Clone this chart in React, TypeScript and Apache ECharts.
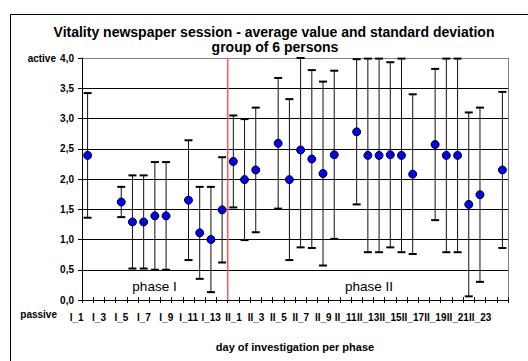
import React, { useEffect, useRef } from "react";
import * as echarts from "echarts";

const phase1Days = ["I_1", "I_2", "I_3", "I_4", "I_5", "I_6", "I_7", "I_8", "I_9", "I_10", "I_11", "I_12", "I_13", "I_14"];
const phase2Days = [
  "II_1", "II_2", "II_3", "II_4", "II_5", "II_6", "II_7", "II_8", "II_9", "II_10", "II_11", "II_12",
  "II_13", "II_14", "II_15", "II_16", "II_17", "II_18", "II_19", "II_20", "II_21", "II_22", "II_23", "II_24",
];
const categories = [...phase1Days, ...phase2Days];

// average value per day (null = no session)
const meanValues: (number | null)[] = [
  2.39, null, null, 1.62, 1.29, 1.29, 1.39, 1.39, null, 1.65, 1.11, 1.0, 1.49,
  2.29, 1.99, 2.15, null, 2.59, 1.99, 2.48, 2.33, 2.09, 2.4, null, 2.78, 2.39,
  2.39, 2.4, 2.39, 2.08, null, 2.57, 2.39, 2.39, 1.58, 1.74, null, 2.15,
];
// standard deviation per day
const stdDeviations: (number | null)[] = [
  1.03, null, null, 0.25, 0.77, 0.77, 0.89, 0.89, null, 0.99, 0.76, 0.87, 0.87,
  0.76, 1.0, 1.03, null, 1.08, 1.33, 1.61, 1.47, 1.52, 1.39, null, 1.2, 1.6,
  1.6, 1.53, 1.6, 1.32, null, 1.25, 1.6, 1.6, 1.52, 1.44, null, 1.29,
];

const yMin = 0;
const yMax = 4;
const yStep = 0.5;
const phaseBoundary = 13;

const FONT = "'Liberation Sans', Arial, sans-serif";

export default function App() {
  const ref = useRef<HTMLDivElement>(null);

  useEffect(() => {
    if (!ref.current) return;
    const chart = echarts.init(ref.current, null, { renderer: "svg" });

    const pointData: [number, number][] = [];
    const barData: [number, number, number][] = [];
    meanValues.forEach((m, i) => {
      const sd = stdDeviations[i];
      if (m == null || sd == null) return;
      pointData.push([i, m]);
      barData.push([i, Math.max(yMin, m - sd), Math.min(yMax, m + sd)]);
    });

    const splitColors = [];
    for (let v = yMin; v <= yMax + 1e-9; v += yStep) splitColors.push(v >= yMax - 1e-9 ? "#808080" : "#000000");

    chart.setOption({
      animation: false,
      backgroundColor: "#ffffff",
      grid: { left: 82, right: 20, top: 58, bottom: 61, containLabel: false },
      xAxis: [
        {
          type: "category",
          data: categories,
          boundaryGap: true,
          position: "bottom",
          name: "day of investigation per phase",
          nameLocation: "middle",
          nameGap: 41,
          nameTextStyle: { fontFamily: FONT, fontWeight: "bold", fontSize: 11, color: "#000" },
          axisLine: { lineStyle: { color: "#000", width: 1 } },
          axisTick: { show: true, interval: 0, inside: false, length: 3, lineStyle: { color: "#000" } },
          axisLabel: {
            interval: 1,
            margin: 12,
            fontFamily: FONT,
            fontWeight: "bold",
            fontSize: 10,
            color: "#000",
            padding: [0, 22, 0, 0],
          },
          splitLine: { show: false },
        },
        {
          type: "value",
          min: 0,
          max: categories.length,
          interval: 1,
          position: "bottom",
          show: true,
          axisLine: { show: false },
          axisTick: { show: true, inside: true, length: 3, lineStyle: { color: "#000" } },
          axisLabel: { show: false },
          splitLine: { show: false },
        },
      ],
      yAxis: [
        {
          type: "value",
          min: yMin,
          max: yMax,
          interval: yStep,
          axisLine: { show: true, lineStyle: { color: "#000", width: 1 } },
          axisTick: { show: true, inside: false, length: 4, lineStyle: { color: "#000" } },
          axisLabel: {
            margin: 8,
            fontFamily: FONT,
            fontWeight: "bold",
            fontSize: 10,
            color: "#000",
            formatter: (v: number) => v.toFixed(1).replace(".", ","),
          },
          splitLine: { show: true, lineStyle: { color: splitColors, width: 1 } },
        },
        {
          type: "value",
          min: yMin,
          max: yMax,
          interval: yStep,
          position: "right",
          axisLine: { show: true, lineStyle: { color: "#808080", width: 1 } },
          axisTick: { show: false },
          axisLabel: { show: false },
          splitLine: { show: false },
        },
      ],
      series: [
        {
          type: "line",
          xAxisIndex: 1,
          yAxisIndex: 0,
          data: [
            [phaseBoundary, yMin],
            [phaseBoundary, yMax],
          ],
          symbol: "none",
          lineStyle: { color: "#ff5a5a", width: 1.5 },
          z: 1,
          silent: true,
        },
        {
          type: "custom",
          xAxisIndex: 0,
          yAxisIndex: 0,
          data: barData,
          encode: { x: 0, y: [1, 2] },
          z: 3,
          renderItem: (params: any, api: any) => {
            const x = api.value(0);
            const lo = api.coord([x, api.value(1)]);
            const hi = api.coord([x, api.value(2)]);
            const half = 4;
            return {
              type: "group",
              children: [
                { type: "line", shape: { x1: lo[0], y1: lo[1], x2: hi[0], y2: hi[1] }, style: { stroke: "#111", lineWidth: 1 } },
                { type: "line", shape: { x1: hi[0] - half, y1: hi[1], x2: hi[0] + half, y2: hi[1] }, style: { stroke: "#000", lineWidth: 2 } },
                { type: "line", shape: { x1: lo[0] - half, y1: lo[1], x2: lo[0] + half, y2: lo[1] }, style: { stroke: "#000", lineWidth: 2 } },
              ],
            };
          },
        },
        {
          type: "scatter",
          xAxisIndex: 0,
          yAxisIndex: 0,
          data: pointData,
          symbol: "circle",
          symbolSize: 8,
          itemStyle: { color: "#0000ff", borderColor: "#000", borderWidth: 1, opacity: 1 },
          z: 5,
        },
      ],
      graphic: [
        {
          type: "rect",
          left: 8,
          top: 12,
          shape: { width: 540, height: 380 },
          style: { fill: "none", stroke: "#000", lineWidth: 1 },
          silent: true,
          z: -10,
        },
        {
          type: "text",
          x: 274,
          y: 32,
          style: {
            text: "Vitality newspaper session - average value and standard deviation",
            fontFamily: FONT,
            fontWeight: "bold",
            fontSize: 14,
            fill: "#000",
            align: "center",
            verticalAlign: "middle",
          },
        },
        {
          type: "text",
          x: 275,
          y: 47,
          style: {
            text: "group of 6 persons",
            fontFamily: FONT,
            fontWeight: "bold",
            fontSize: 14,
            fill: "#000",
            align: "center",
            verticalAlign: "middle",
          },
        },
        {
          type: "text",
          x: 56,
          y: 58,
          style: { text: "active", fontFamily: FONT, fontWeight: "bold", fontSize: 10, fill: "#000", align: "right", verticalAlign: "middle" },
        },
        {
          type: "text",
          x: 57,
          y: 314,
          style: { text: "passive", fontFamily: FONT, fontWeight: "bold", fontSize: 10, fill: "#000", align: "right", verticalAlign: "middle" },
        },
        {
          type: "text",
          x: 154.5,
          y: 286,
          style: { text: "phase I", fontFamily: FONT, fontSize: 13.5, fill: "#000", align: "center", verticalAlign: "middle" },
        },
        {
          type: "text",
          x: 369,
          y: 286,
          style: { text: "phase II", fontFamily: FONT, fontSize: 13.5, fill: "#000", align: "center", verticalAlign: "middle" },
        },
      ],
    });

    return () => {
      chart.dispose();
    };
  }, []);

  return (
    <div
      ref={ref}
      style={{ position: "fixed", left: 0, top: 0, width: 528, height: 361, background: "#fff" }}
    />
  );
}
